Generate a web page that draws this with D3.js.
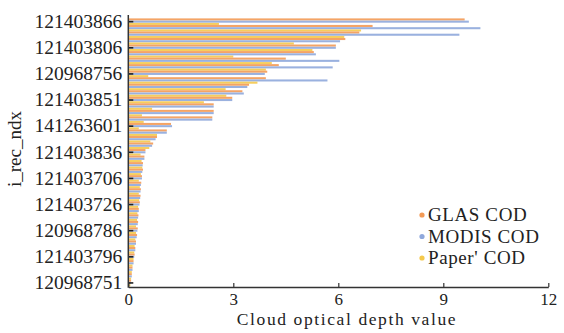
<!DOCTYPE html>
<html>
<head>
<meta charset="utf-8">
<script src="https://cdn.jsdelivr.net/npm/d3@7"></script>
<style>
  html, body { margin: 0; padding: 0; background: #fff; }
  svg { display: block; }
  text { font-family: "Liberation Serif", "Times New Roman", serif; fill: #222; }
</style>
</head>
<body>
<svg id="chart" width="564" height="333"></svg>
<script>
// Cloud optical depth per record, sorted from the largest GLAS value down
const glasCOD  = [9.61, 6.98, 6.60, 6.20, 5.93, 5.30, 4.50, 4.30, 3.97, 3.93,
                  3.45, 3.26, 2.97, 2.44, 2.44, 2.40, 1.22, 1.10, 0.82, 0.71,
                  0.49, 0.46, 0.42, 0.42, 0.39, 0.37, 0.36, 0.35, 0.33, 0.30,
                  0.29, 0.28, 0.27, 0.25, 0.22, 0.20, 0.18, 0.15, 0.12, 0.10, 0.08];
const modisCOD = [9.73, 10.06, 9.46, 6.05, 5.93, 5.36, 6.03, 5.84, 3.90, 5.69,
                  3.40, 3.30, 2.97, 2.44, 2.44, 2.40, 1.25, 1.10, 0.78, 0.68,
                  0.49, 0.46, 0.41, 0.40, 0.39, 0.36, 0.35, 0.34, 0.32, 0.30,
                  0.28, 0.27, 0.26, 0.24, 0.22, 0.20, 0.17, 0.15, 0.12, 0.10, 0.07];
const paperCOD = [2.59, 6.65, 6.17, 4.73, 5.26, 3.00, 4.10, 3.93, 0.57, 3.69,
                  2.78, 2.80, 2.16, 0.68, 0.39, 0.44, 0.30, 0.82, 0.63, 0.60,
                  0.35, 0.38, 0.40, 0.36, 0.30, 0.33, 0.30, 0.31, 0.28, 0.26,
                  0.25, 0.22, 0.22, 0.20, 0.18, 0.17, 0.15, 0.12, 0.10, 0.08, 0.06];

// Record ids shown on the axis (every 4th record)
const recordTickLabels = ["121403866", "121403806", "120968756", "121403851", "141263601",
                          "121403836", "121403706", "121403726", "120968786", "121403796",
                          "120968751"];
const tickStep = 4;

const xTicks = [0, 3, 6, 9, 12];
const seriesNames = ["GLAS COD", "MODIS COD", "Paper' COD"];
const seriesColors = ["#f39a55", "#8fa8dc", "#f5c94c"];
const seriesValues = [glasCOD, modisCOD, paperCOD];

const svg = d3.select("#chart");
const margin = { left: 128.3, right: 548.3, top: 18.4, bottom: 286.2 };

const records = d3.range(glasCOD.length);
const y = d3.scaleBand().domain(records).range([margin.top, margin.bottom]).padding(0);
const sub = d3.scaleBand().domain(d3.range(seriesNames.length)).range([0, y.bandwidth()]).paddingInner(0.08);
const x = d3.scaleLinear().domain([0, 12]).range([margin.left, margin.right]);

// Bars
const groups = svg.append("g").selectAll("g")
  .data(records).join("g")
  .attr("transform", i => `translate(0,${y(i)})`);

groups.selectAll("rect")
  .data(i => seriesValues.map((vals, s) => ({ s, v: vals[i] })))
  .join("rect")
  .attr("x", x(0))
  .attr("y", d => sub(d.s))
  .attr("width", d => x(d.v) - x(0))
  .attr("height", sub.bandwidth())
  .attr("fill", d => seriesColors[d.s])
  .attr("opacity", 0.9);

// X axis
const xAxis = svg.append("g")
  .attr("transform", "translate(0,287)")
  .call(d3.axisBottom(x).tickValues(xTicks).tickFormat(d3.format("d"))
    .tickSizeInner(-4).tickSizeOuter(0).tickPadding(6));
xAxis.select(".domain").attr("stroke", "#333").attr("stroke-width", 1.5);
xAxis.selectAll(".tick line").attr("stroke", "#333").attr("stroke-width", 1.2);
xAxis.selectAll("text").attr("font-size", 17).attr("fill", "#222");

// Y axis
const yAxis = svg.append("g")
  .attr("transform", `translate(${margin.left},0)`)
  .call(d3.axisLeft(y)
    .tickValues(records.filter(i => i % tickStep === 0))
    .tickFormat(i => recordTickLabels[i / tickStep])
    .tickSizeInner(-5).tickSizeOuter(0).tickPadding(6));
yAxis.select(".domain").remove();
yAxis.selectAll(".tick line").attr("stroke", "#222").attr("stroke-width", 1.6);
yAxis.selectAll("text").attr("font-size", 19.5).attr("fill", "#222");
svg.append("line")
  .attr("x1", margin.left).attr("x2", margin.left)
  .attr("y1", 15).attr("y2", 287.7)
  .attr("stroke", "#333").attr("stroke-width", 1.5);

// Axis titles
svg.append("text")
  .attr("x", 347).attr("y", 325)
  .attr("text-anchor", "middle")
  .attr("font-size", 17.5).attr("letter-spacing", 1.6)
  .text("Cloud optical depth value");

svg.append("text")
  .attr("transform", "translate(21,149) rotate(-90)")
  .attr("text-anchor", "middle")
  .attr("font-size", 19)
  .text("i_rec_ndx");

// Legend
const legend = svg.append("g").selectAll("g")
  .data(seriesNames).join("g")
  .attr("transform", (d, i) => `translate(422,${215 + i * 21.5})`);
legend.append("circle").attr("r", 2.6).attr("fill", (d, i) => seriesColors[i]);
legend.append("text")
  .attr("x", 6).attr("y", 6.3)
  .attr("font-size", 19).attr("letter-spacing", 0.6)
  .text(d => d);
</script>
</body>
</html>
